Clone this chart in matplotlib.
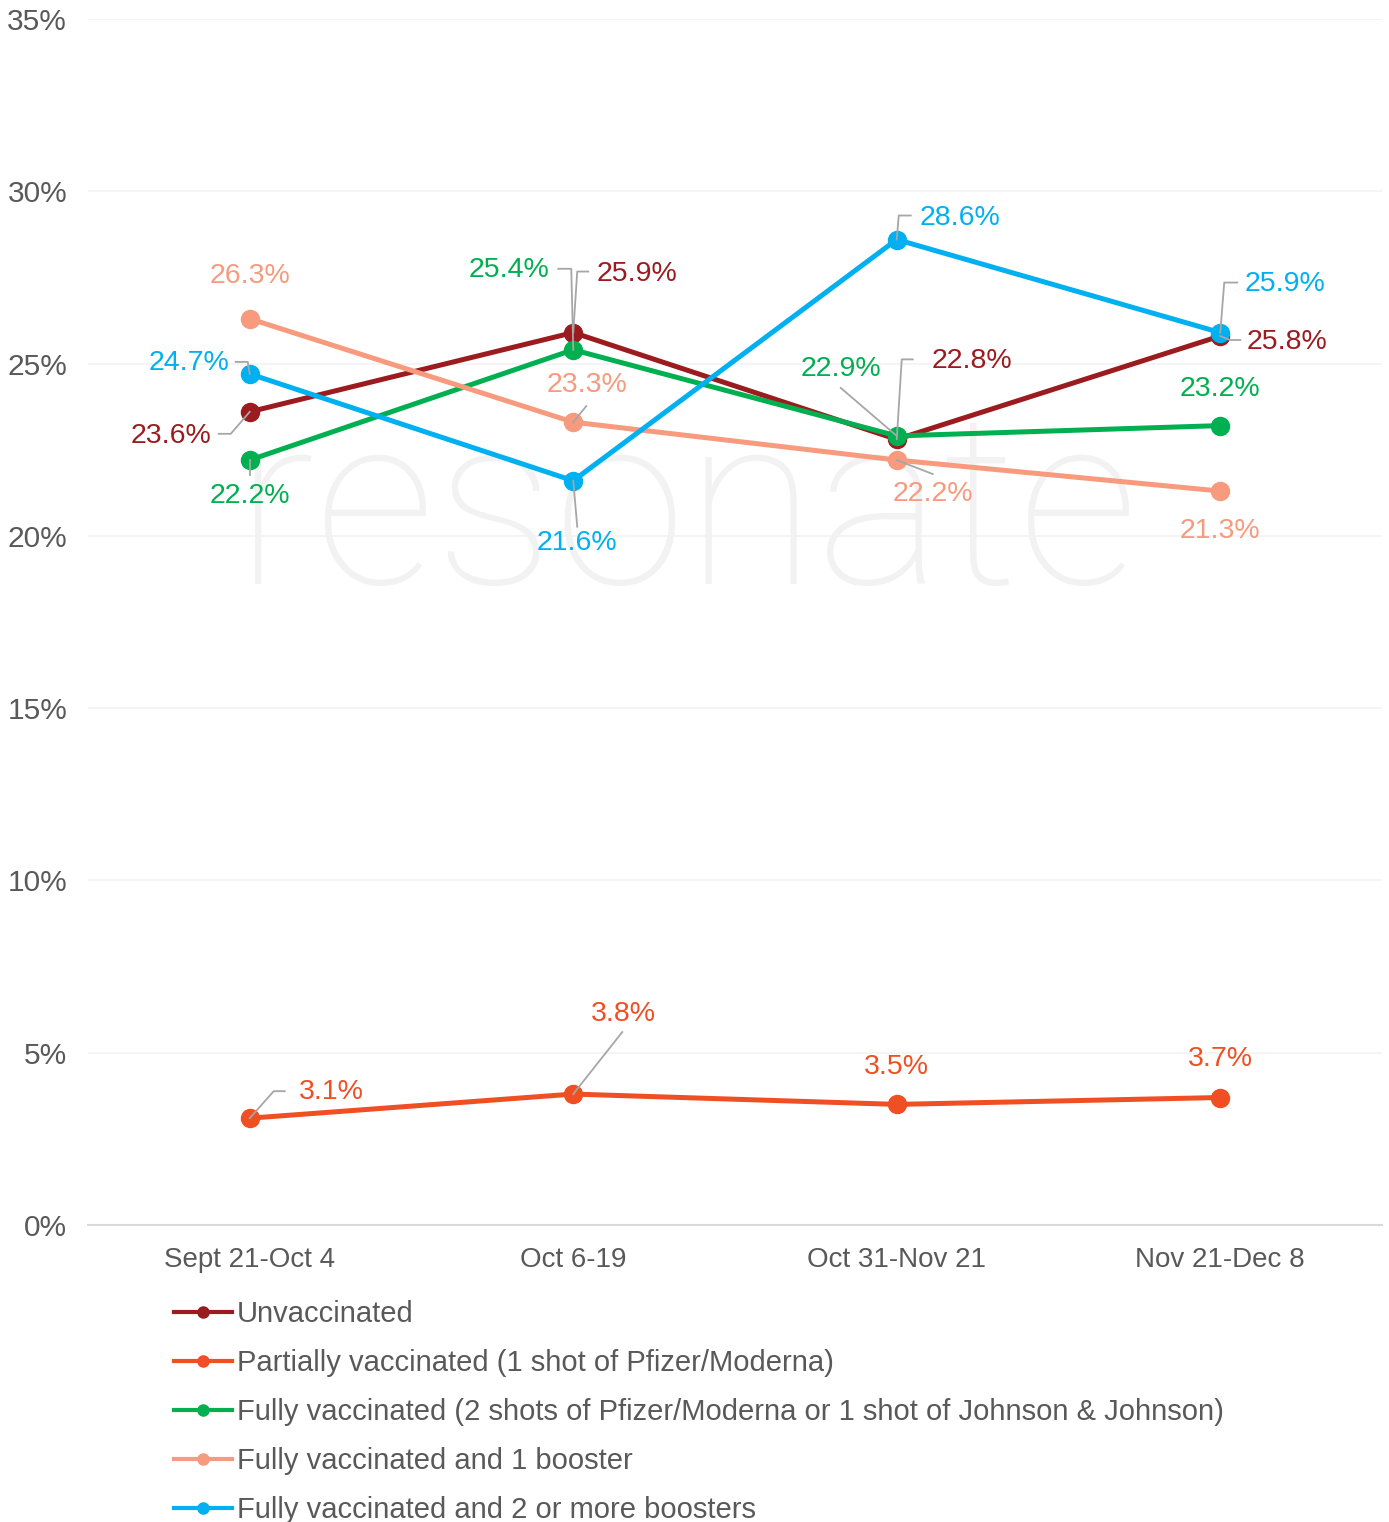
import matplotlib.pyplot as plt
from matplotlib.lines import Line2D

periods = ["Sept 21-Oct 4", "Oct 6-19", "Oct 31-Nov 21", "Nov 21-Dec 8"]

unvaccinated = [23.6, 25.9, 22.8, 25.8]
partially = [3.1, 3.8, 3.5, 3.7]
fully = [22.2, 25.4, 22.9, 23.2]
one_booster = [26.3, 23.3, 22.2, 21.3]
two_boosters = [24.7, 21.6, 28.6, 25.9]

series_names = [
    "Unvaccinated",
    "Partially vaccinated (1 shot of Pfizer/Moderna)",
    "Fully vaccinated (2 shots of Pfizer/Moderna or 1 shot of Johnson & Johnson)",
    "Fully vaccinated and 1 booster",
    "Fully vaccinated and 2 or more boosters",
]
series_values = [unvaccinated, partially, fully, one_booster, two_boosters]
colors = ["#9B1B1F", "#F04E23", "#00B050", "#F79A7E", "#00B0F0"]

# label placement: text offset from marker in pixels (right, down)
label_offsets = [
    [(-79, 24), (64, -59), (75, -78), (67, 6)],
    [(82, -26), (50, -80), (0, -37), (0, -39)],
    [(0, 36), (-64, -80), (-56, -67), (0, -37)],
    [(0, -43), (14, -37), (36, 34), (0, 40)],
    [(-61, -11), (4, 62), (63, -22), (65, -49)],
]
# leader lines (pixel offsets from marker)
leaders = [
    {0: [(0, 0), (-19, 22), (-31, 22)], 1: [(0, 0), (4, -61), (15, -61)],
     2: [(0, 0), (5, -80), (16, -80)], 3: [(0, 0), (10, 4), (20, 4)]},
    {0: [(0, 0), (24, -27), (35, -27)], 1: [(0, 0), (49, -62)]},
    {0: [(0, 0), (0, 15)], 1: [(0, 0), (-2, -81), (-15, -81)], 2: [(0, 0), (-56, -48)]},
    {1: [(0, 0), (13, -16)], 2: [(0, 0), (36, 14)]},
    {0: [(0, 0), (-2, -12), (-14, -12)], 1: [(0, 0), (4, 46)],
     2: [(0, 0), (2, -24), (14, -24)], 3: [(0, 0), (4, -50), (17, -50)]},
]

plt.rcParams["font.family"] = ["Liberation Sans", "DejaVu Sans"]

fig = plt.figure(figsize=(13.89, 15.22), dpi=100)
ax = fig.add_axes([88 / 1389, 297 / 1522, 1294 / 1389, 1206 / 1522])

x = list(range(len(periods)))
ax.set_xlim(-0.5, len(periods) - 0.5)
ax.set_ylim(0, 35)

px_x = 1294 / len(periods)
px_y = 1206 / 35

# watermark
ax.text(1.35, 18.6, "resonate", fontsize=172, color="#F2F2F2", ha="center",
        va="baseline", family=["Roboto", "DejaVu Sans"], fontweight="light", zorder=0)

for name, vals, col in zip(series_names, series_values, colors):
    ax.plot(x, vals, color=col, lw=3.6, marker="o", ms=13, zorder=3,
            solid_capstyle="round")

for vals, col, offs, lead in zip(series_values, colors, label_offsets, leaders):
    for i, v in enumerate(vals):
        dx, dy = offs[i]
        ax.annotate(f"{v:.1f}%", (i, v), xytext=(dx, -dy), textcoords="offset pixels",
                    ha="center", va="center", fontsize=20.5, color=col, zorder=5)
        if i in lead:
            lx = [i + p[0] / px_x for p in lead[i]]
            ly = [v - p[1] / px_y for p in lead[i]]
            ax.plot(lx, ly, color="#A6A6A6", lw=1.3, zorder=4)

ax.set_yticks(range(0, 36, 5))
ax.set_yticklabels([f"{t}%" for t in range(0, 36, 5)])
ax.set_xticks(x)
ax.set_xticklabels(periods)
ax.tick_params(axis="both", length=0, labelsize=20, labelcolor="#595959")
ax.tick_params(axis="y", labelsize=21.5, pad=15)
ax.tick_params(axis="x", pad=16)
ax.grid(axis="y", color="#F2F2F2", lw=1.2, zorder=0)
ax.set_axisbelow(True)
for side in ["top", "right", "left"]:
    ax.spines[side].set_visible(False)
ax.spines["bottom"].set_color("#D9D9D9")
ax.spines["bottom"].set_linewidth(1.5)

handles = [Line2D([], [], color=c, lw=3, marker="o", ms=8) for c in colors]
fig.legend(handles, series_names, loc="upper left", bbox_to_anchor=(174 / 1389, 1 - 1300 / 1522),
           frameon=False, fontsize=21, labelcolor="#595959", handlelength=2.0,
           handletextpad=0.15, labelspacing=0.72, borderaxespad=0, borderpad=0)

fig.savefig("out.png", dpi=100)
